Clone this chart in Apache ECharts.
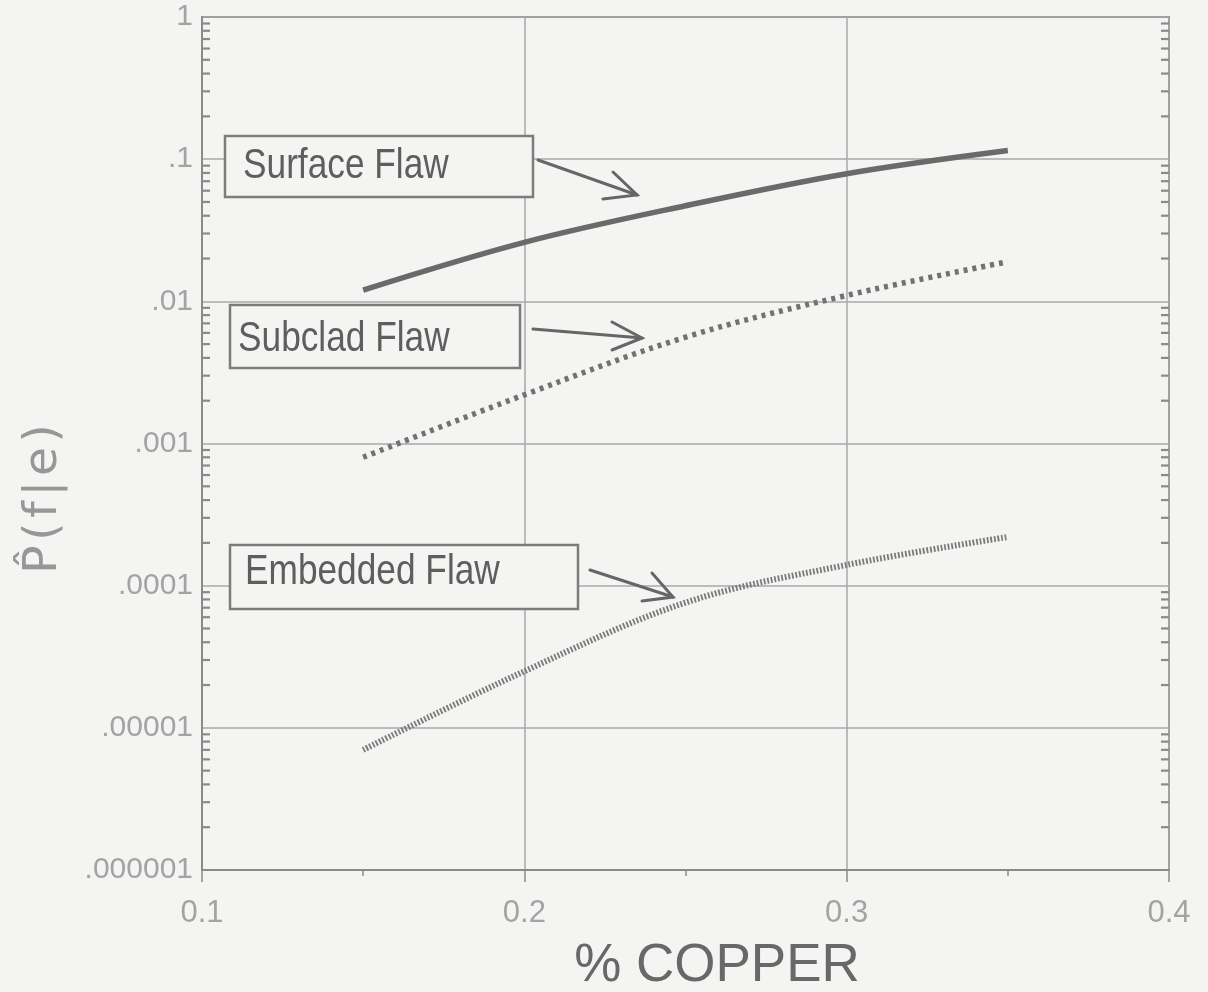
<!DOCTYPE html>
<html>
<head>
<meta charset="utf-8">
<script src="https://cdn.jsdelivr.net/npm/echarts@6/dist/echarts.min.js"></script>
<style>
  html, body { margin: 0; padding: 0; background: #f4f4f3; }
  #chart { width: 1208px; height: 992px; }
</style>
</head>
<body>
<div id="chart"></div>
<script>
// Copper content (%) at which each flaw curve is evaluated
const copper = [0.15, 0.20, 0.25, 0.30, 0.35];

// Conditional probability of failure for each flaw type
const surfaceFlaw  = [0.012, 0.026, 0.047, 0.079, 0.115];
const subcladFlaw  = [0.0008, 0.0022, 0.0056, 0.011, 0.019];
const embeddedFlaw = [0.000007, 0.000025, 0.000076, 0.00014, 0.00022];

// Axis tick labels
const xTickLabels = ['0.1', '0.2', '0.3', '0.4'];
const yTickLabels = ['.000001', '.00001', '.0001', '.001', '.01', '.1', '1'];

// Minor tick positions inside each decade of the log axis (2..9 x 10^k)
const yMinorTicks = [];
for (let k = -6; k < 0; k++) {
  for (let m = 2; m <= 9; m++) yMinorTicks.push(m * Math.pow(10, k));
}

const BG = '#f4f4f3';
const GRID_COLOR = '#a9a9a9';
const FRAME_COLOR = '#8a8a8a';
const LABEL_COLOR = '#a3a3a3';
const NOTE_COLOR = '#5e5e5e';

const pairs = ys => copper.map((x, i) => [x, ys[i]]);

// Labelled box with a condensed caption
function noteBox(x, y, w, h, text, tx, ty) {
  return [
    { type: 'rect', z: 20, shape: { x, y, width: w, height: h },
      style: { fill: BG, stroke: '#7c7c7c', lineWidth: 2.5 } },
    { type: 'text', z: 21, x: tx, y: ty, scaleX: 0.82, scaleY: 1,
      style: { text, font: '43px "Liberation Sans", Arial, sans-serif',
               fill: NOTE_COLOR, verticalAlign: 'middle', align: 'left' } }
  ];
}

// Open arrow: shaft plus two head strokes
function arrow(x1, y1, x2, y2, w1, w2) {
  const st = { stroke: '#666', lineWidth: 3, lineCap: 'round', fill: null };
  return [
    { type: 'line', z: 20, shape: { x1, y1, x2, y2 }, style: st },
    { type: 'polyline', z: 20, shape: { points: [w1, [x2, y2], w2] }, style: st }
  ];
}

const chart = echarts.init(document.getElementById('chart'), null, { renderer: 'canvas' });

const option = {
  backgroundColor: BG,
  animation: false,
  grid: {
    left: 202, right: 39, top: 17, bottom: 122,
    show: true, borderColor: FRAME_COLOR, borderWidth: 2, backgroundColor: 'transparent'
  },
  xAxis: {
    type: 'value', min: 0.1, max: 0.4, interval: 0.1,
    axisLine: { show: true, lineStyle: { color: FRAME_COLOR, width: 2 } },
    axisTick: { show: true, inside: false, length: 12, lineStyle: { color: FRAME_COLOR, width: 1.5 } },
    minorTick: { show: true, splitNumber: 2, length: 6, lineStyle: { color: FRAME_COLOR, width: 1.5 } },
    splitLine: { show: true, lineStyle: { color: GRID_COLOR, width: 1.5 } },
    axisLabel: {
      margin: 28, color: LABEL_COLOR, fontSize: 31,
      fontFamily: '"Liberation Sans", Arial, sans-serif',
      formatter: v => xTickLabels[Math.round((v - 0.1) * 10)]
    }
  },
  yAxis: {
    type: 'log', logBase: 10, min: 0.000001, max: 1, splitNumber: 6,
    axisLine: { show: true, lineStyle: { color: FRAME_COLOR, width: 2 } },
    axisTick: { show: false },
    splitLine: { show: true, lineStyle: { color: GRID_COLOR, width: 1.5 } },
    axisLabel: {
      margin: 9, color: LABEL_COLOR, fontSize: 30,
      fontFamily: '"Liberation Sans", Arial, sans-serif',
      formatter: v => yTickLabels[Math.round(Math.log10(v)) + 6]
    }
  },
  series: [
    {
      name: 'Surface Flaw', type: 'line', data: pairs(surfaceFlaw),
      smooth: 0.35, symbol: 'none', z: 5,
      lineStyle: { color: '#6a6a6a', width: 5.5, type: 'solid', cap: 'butt' }
    },
    {
      name: 'Subclad Flaw', type: 'line', data: pairs(subcladFlaw),
      smooth: 0.35, symbol: 'none', z: 5,
      lineStyle: { color: '#727272', width: 5.5, type: [4, 5], cap: 'butt' }
    },
    {
      name: 'Embedded Flaw', type: 'line', data: pairs(embeddedFlaw),
      smooth: 0.35, symbol: 'none', z: 5,
      lineStyle: { color: '#7a7a7a', width: 6, type: [1.8, 1.8], cap: 'butt' }
    },
    {
      // inward minor ticks on the left and right edges of the log axis
      name: 'minor', type: 'custom', silent: true, clip: false, z: 4,
      data: yMinorTicks.map(v => [0.1, v]),
      encode: { x: 0, y: 1 },
      renderItem: (params, api) => {
        const v = api.value(1);
        const l = api.coord([0.1, v]);
        const r = api.coord([0.4, v]);
        const st = { stroke: FRAME_COLOR, lineWidth: 2.2 };
        return {
          type: 'group',
          children: [
            { type: 'line', shape: { x1: l[0], y1: l[1], x2: l[0] + 8, y2: l[1] }, style: st },
            { type: 'line', shape: { x1: r[0] - 8, y1: r[1], x2: r[0], y2: r[1] }, style: st }
          ]
        };
      }
    }
  ],
  graphic: [
    ...noteBox(225, 136, 308, 61, 'Surface Flaw', 243, 166),
    ...noteBox(230, 305, 290, 63, 'Subclad Flaw', 238, 339),
    ...noteBox(230, 545, 348, 64, 'Embedded Flaw', 245, 572),
    ...arrow(538, 160, 637, 195, [613, 172], [603, 199]),
    ...arrow(533, 329, 642, 338, [612, 322], [612, 350]),
    ...arrow(590, 570, 673, 597, [652, 573], [642, 601]),
    {
      type: 'text', z: 20, x: 44, y: 499, rotation: Math.PI / 2,
      style: {
        text: 'P\u0302\u200A(\u200Af\u200A|\u200Ae\u200A)',
        font: '47px "DejaVu Sans", "Liberation Sans", sans-serif',
        fill: '#979797', align: 'center', verticalAlign: 'middle'
      }
    },
    {
      type: 'text', z: 20, x: 717, y: 966,
      style: {
        text: '% COPPER',
        font: '53px "Liberation Sans", Arial, sans-serif',
        fill: '#686868', align: 'center', verticalAlign: 'middle'
      }
    }
  ]
};

chart.setOption(option);
</script>
</body>
</html>
